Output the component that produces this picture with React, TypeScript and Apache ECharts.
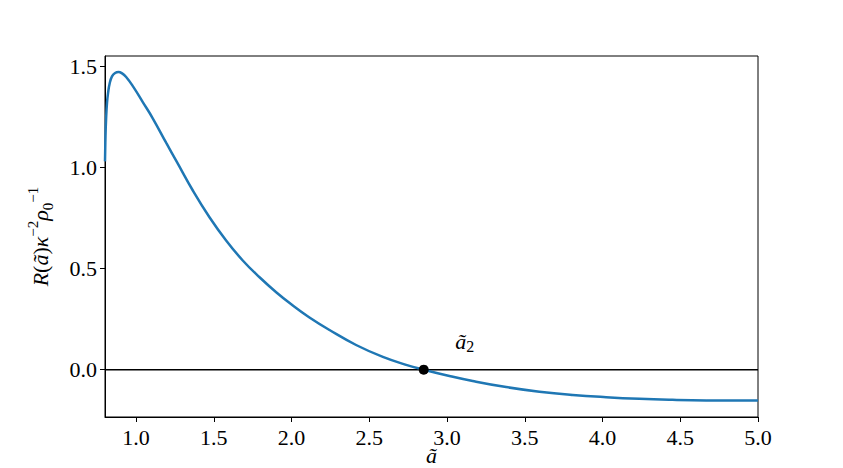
import React, { useEffect, useRef } from "react";
import * as echarts from "echarts";

const aValues = [0.8, 0.803, 0.807, 0.813, 0.82, 0.83, 0.845, 0.865, 0.887, 0.91, 0.936, 0.979, 1.043, 1.107, 1.194, 1.263, 1.365, 1.472, 1.579, 1.686, 1.794, 1.901, 2.0, 2.115, 2.244, 2.415, 2.587, 2.737, 2.85, 3.015, 3.165, 3.38, 3.594, 3.808, 4.023, 4.237, 4.45, 4.666, 5.0];
const rValues = [1.03, 1.15, 1.24, 1.32, 1.37, 1.415, 1.45, 1.467, 1.472, 1.465, 1.447, 1.402, 1.323, 1.243, 1.121, 1.026, 0.886, 0.754, 0.639, 0.54, 0.457, 0.383, 0.322, 0.258, 0.196, 0.122, 0.063, 0.024, 0.0, -0.031, -0.056, -0.086, -0.109, -0.125, -0.136, -0.144, -0.149, -0.152, -0.153];
const rootPoint = [2.85, 0];
const zeroLine = [[0.8, 0], [5.0, 0]];
const xTicks = [1.0, 1.5, 2.0, 2.5, 3.0, 3.5, 4.0, 4.5, 5.0];
const yTicks = [0.0, 0.5, 1.0, 1.5];
const xRange = [0.8, 5.0];
const yRange = [-0.234, 1.551];

const FONT = "Liberation Serif";

export default function App() {
  const ref = useRef<HTMLDivElement>(null);
  useEffect(() => {
    if (!ref.current) return;
    const chart = echarts.init(ref.current, null, { renderer: "svg" });
    const axisLabelStyle = { color: "#000", fontFamily: FONT, fontSize: 22 };
    chart.setOption({
      animation: false,
      backgroundColor: "#fff",
      grid: {
        left: 105,
        right: 85,
        top: 56,
        bottom: 51,
        outerBoundsMode: "none",
        containLabel: false,
        show: true,
        borderColor: "#000",
        borderWidth: 1,
        backgroundColor: "transparent",
      },
      xAxis: {
        type: "value",
        min: xRange[0],
        max: xRange[1],
        axisLine: { show: true, onZero: false, lineStyle: { color: "#000", width: 1 } },
        axisTick: { show: true, length: 5, customValues: xTicks, lineStyle: { color: "#000" } },
        axisLabel: {
          ...axisLabelStyle,
          margin: 9,
          customValues: xTicks,
          formatter: (v: number) => v.toFixed(1),
        },
        splitLine: { show: false },
        name: "ã",
        nameLocation: "middle",
        nameGap: 27,
        nameMoveOverlap: false,
        nameTextStyle: {
          fontFamily: FONT,
          fontStyle: "italic",
          fontSize: 22,
          color: "#000",
          verticalAlign: "top",
          lineHeight: 22,
        },
      },
      yAxis: {
        type: "value",
        min: yRange[0],
        max: yRange[1],
        axisLine: { show: true, onZero: false, lineStyle: { color: "#000", width: 1 } },
        axisTick: { show: true, length: 5, customValues: yTicks, lineStyle: { color: "#000" } },
        axisLabel: {
          ...axisLabelStyle,
          margin: 8,
          customValues: yTicks,
          formatter: (v: number) => v.toFixed(1),
        },
        splitLine: { show: false },
        name: "{i|R}{n|(}{i|ã}{n|)}{i|κ}{sup|−2}{i|ρ}{sub|0}{sup|−1}",
        nameLocation: "middle",
        nameRotate: 90,
        nameGap: 50,
        nameMoveOverlap: false,
        nameTextStyle: {
          rich: {
            i: { fontFamily: FONT, fontStyle: "italic", fontSize: 22, color: "#000", lineHeight: 30, verticalAlign: "middle" },
            n: { fontFamily: FONT, fontSize: 22, color: "#000", lineHeight: 30, verticalAlign: "middle" },
            sup: { fontFamily: FONT, fontSize: 15, color: "#000", verticalAlign: "top", lineHeight: 16 },
            sub: { fontFamily: FONT, fontSize: 15, color: "#000", verticalAlign: "bottom", lineHeight: 16 },
          },
        },
      },
      series: [
        {
          type: "line",
          data: zeroLine,
          symbol: "none",
          lineStyle: { color: "#000", width: 1.6 },
          silent: true,
          z: 2,
        },
        {
          type: "line",
          data: aValues.map((a, i) => [a, rValues[i]]),
          symbol: "none",
          smooth: 0.45,
          lineStyle: { color: "#1f77b4", width: 2.5 },
          z: 3,
        },
        {
          type: "scatter",
          data: [rootPoint],
          symbol: "circle",
          symbolSize: 10,
          itemStyle: { color: "#000", opacity: 1 },
          z: 4,
          label: {
            show: true,
            formatter: "{i|ã}{sub|2}",
            position: "inside",
            offset: [41, -28],
            color: "#000",
            textBorderWidth: 0,
            rich: {
              i: { fontFamily: FONT, fontStyle: "italic", fontSize: 22, color: "#000", lineHeight: 26, verticalAlign: "middle", textBorderWidth: 0 },
              sub: { fontFamily: FONT, fontSize: 16, color: "#000", verticalAlign: "bottom", lineHeight: 14, textBorderWidth: 0 },
            },
          },
        },
      ],
    });
    return () => chart.dispose();
  }, []);
  return <div ref={ref} style={{ width: 843, height: 468, position: "absolute", left: 0, top: 0 }} />;
}
